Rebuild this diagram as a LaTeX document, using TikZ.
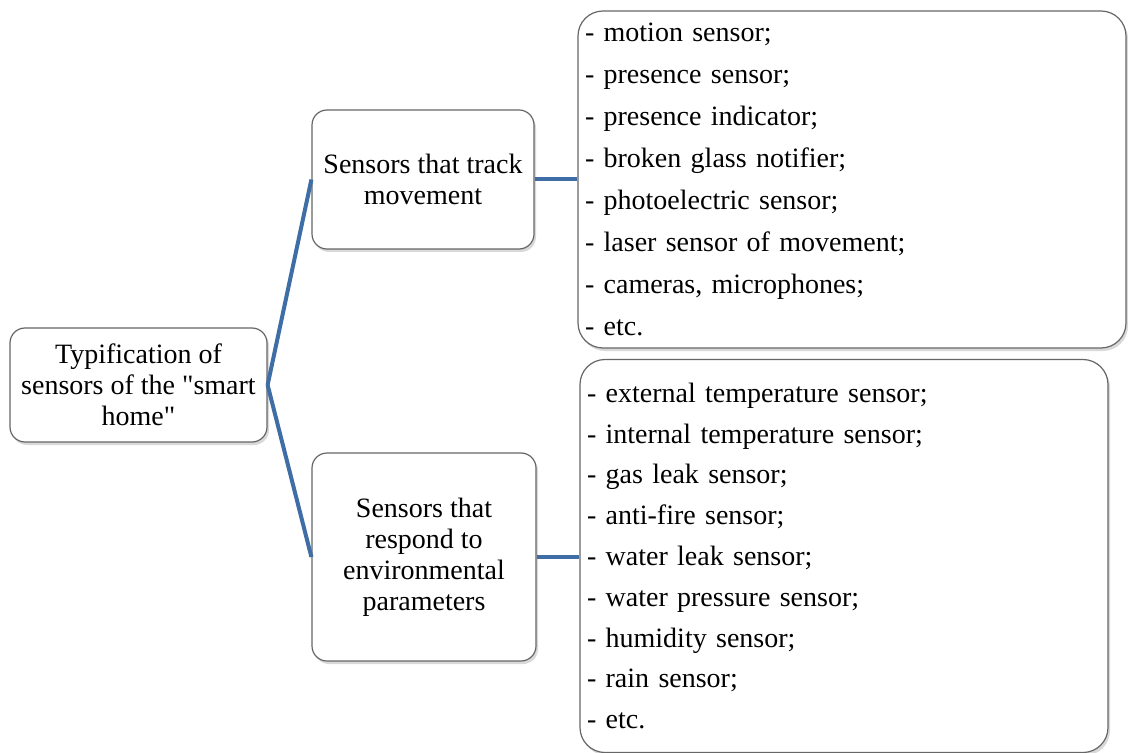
\documentclass[tikz,border=0pt]{standalone}
\usepackage{fontspec}
\setmainfont{Liberation Serif}
\usetikzlibrary{shadows}
\definecolor{linkblue}{HTML}{3F6DA5}
\definecolor{boxgray}{HTML}{666666}

\begin{document}
\begin{tikzpicture}[x=0.5pt, y=-0.5pt,
    box/.style={draw=boxgray, fill=white, rounded corners=7.5pt, line width=0.6pt,
      drop shadow={shadow xshift=1pt, shadow yshift=-1.5pt, opacity=0.3},
      align=center, inner sep=2pt, font=\fontsize{14}{15.5}\selectfont},
    listbox/.style={box, rounded corners=12.5pt, align=left, inner xsep=3.5pt},
    link/.style={draw=linkblue, line width=2pt}]
    \useasboundingbox (0, 0) rectangle (1128, 753);

    % Root
    \node [box, minimum width=128.5pt, minimum height=57pt] (root) at (138.5, 385)
      {Typification of\\sensors of the \textquotedbl smart\\home\textquotedbl};

    % Groups
    \node [box, minimum width=111pt, minimum height=69.5pt] (move) at (423, 179.5)
      {Sensors that track\\movement};
    \node [box, minimum width=112pt, minimum height=104pt] (env) at (424, 557)
      {Sensors that\\respond to\\environmental\\parameters};

    % Lists
    \node [listbox, text width=267pt, minimum height=168.5pt,
      font=\fontsize{14}{21}\selectfont] (movelist) at (852, 179.5)
      {- motion sensor;\\- presence sensor;\\- presence indicator;\\
       - broken glass notifier;\\- photoelectric sensor;\\
       - laser sensor of movement;\\- cameras, microphones;\\- etc.};
    \node [listbox, text width=257pt, minimum height=196.5pt,
      font=\fontsize{14}{20.4}\selectfont] (envlist) at (844, 556)
      {- external temperature sensor;\\- internal temperature sensor;\\
       - gas leak sensor;\\- anti-fire sensor;\\- water leak sensor;\\
       - water pressure sensor;\\- humidity sensor;\\- rain sensor;\\- etc.};

    % Links
    \draw [link] (root.east) -- (move.west);
    \draw [link] (root.east) -- (env.west);
    \draw [link] (move.east) -- (movelist.west |- move.east);
    \draw [link] (env.east) -- (envlist.west |- env.east);
  \end{tikzpicture}
\end{document}
